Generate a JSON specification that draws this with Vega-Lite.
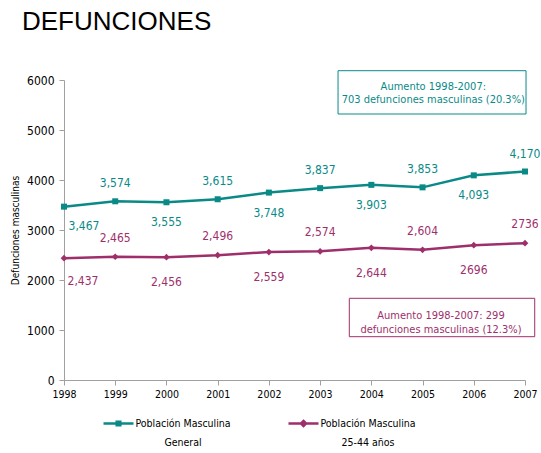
{
  "$schema": "https://vega.github.io/schema/vega-lite/v6.json",
  "width": 461,
  "height": 300,
  "autosize": {"type": "none"},
  "padding": {"left": 64, "top": 80, "right": 16, "bottom": 73},
  "background": "white",
  "title": {
    "text": "DEFUNCIONES",
    "anchor": "start",
    "frame": "group",
    "dx": -42,
    "font": "Liberation Sans",
    "fontSize": 26,
    "fontWeight": "normal",
    "color": "black",
    "baseline": "alphabetic",
    "offset": 14
  },
  "config": {
    "view": {"stroke": null},
    "font": "DejaVu Sans Condensed, DejaVu Sans"
  },
  "data": {
    "values": [
      {"serie": "General", "year": 1998, "value": 3467, "label": "3,467"},
      {"serie": "General", "year": 1999, "value": 3574, "label": "3,574"},
      {"serie": "General", "year": 2000, "value": 3555, "label": "3,555"},
      {"serie": "General", "year": 2001, "value": 3615, "label": "3,615"},
      {"serie": "General", "year": 2002, "value": 3748, "label": "3,748"},
      {"serie": "General", "year": 2003, "value": 3837, "label": "3,837"},
      {"serie": "General", "year": 2004, "value": 3903, "label": "3,903"},
      {"serie": "General", "year": 2005, "value": 3853, "label": "3,853"},
      {"serie": "General", "year": 2006, "value": 4093, "label": "4,093"},
      {"serie": "General", "year": 2007, "value": 4170, "label": "4,170"},
      {"serie": "25-44 años", "year": 1998, "value": 2437, "label": "2,437"},
      {"serie": "25-44 años", "year": 1999, "value": 2465, "label": "2,465"},
      {"serie": "25-44 años", "year": 2000, "value": 2456, "label": "2,456"},
      {"serie": "25-44 años", "year": 2001, "value": 2496, "label": "2,496"},
      {"serie": "25-44 años", "year": 2002, "value": 2559, "label": "2,559"},
      {"serie": "25-44 años", "year": 2003, "value": 2574, "label": "2,574"},
      {"serie": "25-44 años", "year": 2004, "value": 2644, "label": "2,644"},
      {"serie": "25-44 años", "year": 2005, "value": 2604, "label": "2,604"},
      {"serie": "25-44 años", "year": 2006, "value": 2696, "label": "2696"},
      {"serie": "25-44 años", "year": 2007, "value": 2736, "label": "2736"}
    ]
  },
  "layer": [
    {
      "mark": {"type": "line", "strokeWidth": 2.5},
      "encoding": {
        "x": {
          "field": "year", "type": "quantitative",
          "scale": {"domain": [1998, 2007], "nice": false, "zero": false},
          "axis": {
            "title": null,
            "values": [1998, 1999, 2000, 2001, 2002, 2003, 2004, 2005, 2006, 2007],
            "format": "d",
            "labelFontSize": 10.5,
            "labelColor": "black",
            "tickColor": "#A0A0A0",
            "domainColor": "#A0A0A0",
            "tickSize": 5,
            "labelPadding": 4,
            "grid": false,
            "labelFlush": false
          }
        },
        "y": {
          "field": "value", "type": "quantitative",
          "scale": {"domain": [0, 6000], "nice": false},
          "axis": {
            "title": "Defunciones masculinas",
            "titleFontSize": 10,
            "titleFontWeight": "normal",
            "titleColor": "black",
            "titlePadding": 6,
            "values": [0, 1000, 2000, 3000, 4000, 5000, 6000],
            "format": "d",
            "labelFontSize": 12,
            "labelColor": "black",
            "labelPadding": 5,
            "tickSize": 5,
            "tickColor": "#A0A0A0",
            "domainColor": "#A0A0A0",
            "grid": false
          }
        },
        "color": {
          "field": "serie", "type": "nominal",
          "scale": {"domain": ["General", "25-44 años"], "range": ["#0A8A87", "#9E2F6B"]},
          "legend": {
            "orient": "none",
            "legendX": 38,
            "legendY": 327,
            "direction": "horizontal",
            "title": null,
            "padding": 0,
            "symbolSize": 900,
            "symbolStrokeWidth": 2.5,
            "labelExpr": "['Población Masculina', datum.value]",
            "labelAlign": "center",
            "labelOffset": 48,
            "labelFontSize": 10.5,
            "labelColor": "black",
            "labelLimit": 0,
            "columnPadding": 52,
            "encode": {
              "symbols": {
                "update": {
                  "shape": {"signal": "datum.value === 'General' ? 'M-1,0H1M-0.12,-0.12H0.12V0.12H-0.12Z' : 'M-1,0H1M0,-0.17L0.17,0L0,0.17L-0.17,0Z'"},
                  "fill": {"scale": "color", "field": "value"},
                  "stroke": {"scale": "color", "field": "value"}
                }
              },
              "labels": {
                "update": {
                  "lineHeight": {"value": 19}
                }
              }
            }
          }
        }
      }
    },
    {
      "transform": [{"filter": "datum.serie === 'General'"}],
      "mark": {"type": "point", "shape": "square", "filled": true, "opacity": 1, "color": "#0A8A87", "size": 36},
      "encoding": {
        "x": {"field": "year", "type": "quantitative"},
        "y": {"field": "value", "type": "quantitative"}
      }
    },
    {
      "transform": [{"filter": "datum.serie === '25-44 años'"}],
      "mark": {"type": "point", "shape": "diamond", "filled": true, "opacity": 1, "color": "#9E2F6B", "size": 45},
      "encoding": {
        "x": {"field": "year", "type": "quantitative"},
        "y": {"field": "value", "type": "quantitative"}
      }
    },
    {
      "transform": [{"filter": "datum.serie === 'General' && datum.year % 2 === 1"}],
      "mark": {"type": "text", "fontSize": 12, "color": "#0A8A87", "dy": -18, "baseline": "middle"},
      "encoding": {
        "x": {"field": "year", "type": "quantitative"},
        "y": {"field": "value", "type": "quantitative"},
        "text": {"field": "label"}
      }
    },
    {
      "transform": [{"filter": "datum.serie === 'General' && datum.year % 2 === 0 && datum.year !== 1998"}],
      "mark": {"type": "text", "fontSize": 12, "color": "#0A8A87", "dy": 20, "baseline": "middle"},
      "encoding": {
        "x": {"field": "year", "type": "quantitative"},
        "y": {"field": "value", "type": "quantitative"},
        "text": {"field": "label"}
      }
    },
    {
      "transform": [{"filter": "datum.serie === 'General' && datum.year === 1998"}],
      "mark": {"type": "text", "fontSize": 12, "color": "#0A8A87", "dy": 19, "dx": 20, "baseline": "middle"},
      "encoding": {
        "x": {"field": "year", "type": "quantitative"},
        "y": {"field": "value", "type": "quantitative"},
        "text": {"field": "label"}
      }
    },
    {
      "transform": [{"filter": "datum.serie === '25-44 años' && datum.year % 2 === 1"}],
      "mark": {"type": "text", "fontSize": 12, "color": "#9E2F6B", "dy": -19, "baseline": "middle"},
      "encoding": {
        "x": {"field": "year", "type": "quantitative"},
        "y": {"field": "value", "type": "quantitative"},
        "text": {"field": "label"}
      }
    },
    {
      "transform": [{"filter": "datum.serie === '25-44 años' && datum.year % 2 === 0 && datum.year !== 1998"}],
      "mark": {"type": "text", "fontSize": 12, "color": "#9E2F6B", "dy": 25, "baseline": "middle"},
      "encoding": {
        "x": {"field": "year", "type": "quantitative"},
        "y": {"field": "value", "type": "quantitative"},
        "text": {"field": "label"}
      }
    },
    {
      "transform": [{"filter": "datum.serie === '25-44 años' && datum.year === 1998"}],
      "mark": {"type": "text", "fontSize": 12, "color": "#9E2F6B", "dy": 23, "dx": 19, "baseline": "middle"},
      "encoding": {
        "x": {"field": "year", "type": "quantitative"},
        "y": {"field": "value", "type": "quantitative"},
        "text": {"field": "label"}
      }
    },
    {
      "data": {"values": [{"box": "General"}]},
      "mark": {"type": "rect", "fill": "white", "fillOpacity": 0, "stroke": "#0A8A87", "strokeWidth": 1},
      "encoding": {
        "x": {"datum": 2003.35, "type": "quantitative"},
        "x2": {"datum": 2007.02},
        "y": {"datum": 6186, "type": "quantitative"},
        "y2": {"datum": 5320}
      }
    },
    {
      "data": {"values": [{"box": "General"}]},
      "mark": {"type": "text", "fontSize": 11, "color": "#0A8A87", "align": "center", "baseline": "middle", "lineHeight": 13, "text": ["Aumento 1998-2007:", "703 defunciones masculinas (20.3%)"]},
      "encoding": {
        "x": {"datum": 2005.21, "type": "quantitative"},
        "y": {"datum": 5860, "type": "quantitative"}
      }
    },
    {
      "data": {"values": [{"box": "25-44 años"}]},
      "mark": {"type": "rect", "fill": "white", "fillOpacity": 0, "stroke": "#9E2F6B", "strokeWidth": 1},
      "encoding": {
        "x": {"datum": 2003.57, "type": "quantitative"},
        "x2": {"datum": 2007.19},
        "y": {"datum": 1634, "type": "quantitative"},
        "y2": {"datum": 866}
      }
    },
    {
      "data": {"values": [{"box": "25-44 años"}]},
      "mark": {"type": "text", "fontSize": 11, "color": "#9E2F6B", "align": "center", "baseline": "middle", "lineHeight": 14, "text": ["Aumento 1998-2007: 299", "defunciones masculinas (12.3%)"]},
      "encoding": {
        "x": {"datum": 2005.36, "type": "quantitative"},
        "y": {"datum": 1290, "type": "quantitative"}
      }
    }
  ]
}
